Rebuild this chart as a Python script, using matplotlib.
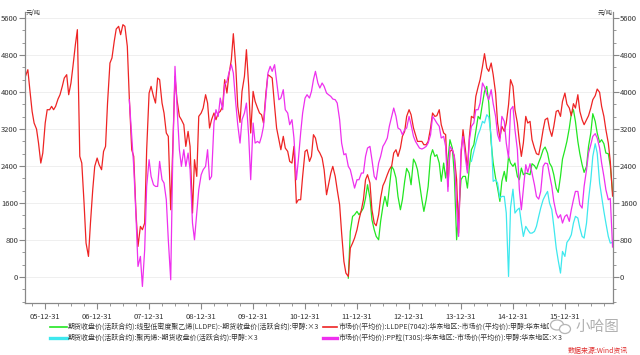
import numpy as np
import pandas as pd
import matplotlib
matplotlib.use('Agg')
import matplotlib.pyplot as plt
import matplotlib.dates as mdates
import matplotlib.ticker as mticker
from matplotlib.lines import Line2D
from matplotlib.patches import Ellipse, Rectangle

plt.rcParams['font.family'] = ['Noto Sans CJK SC', 'DejaVu Sans']

# ---------------- data (semi-monthly samples) ----------------
red_start = '2005-08-15'
red_vals = [
    4339, 4483, 4051, 3582, 3330, 3200, 2897, 2465, 2681, 3330,
    3618, 3618, 3690, 3618, 3690, 3849, 3942, 4123, 4303, 4375,
    3942, 4195, 4555, 5023, 5348, 2609, 2465, 1600, 735, 447,
    1168, 1888, 2393, 2573, 2429, 2321, 2717, 2825, 3762, 4627,
    4735, 5095, 5362, 5420, 5240,
    5456, 5420, 4987, 3870, 2753, 2609, 1384, 663, 1096, 1024,
    1168, 2753, 3978, 4123, 3906, 3762, 4303, 4267, 3762, 3546,
    3114, 3042, 1456, 2753, 4339, 3834, 3474, 3402, 3294, 2825,
    3150, 2825, 1384, 2537, 2177, 3474, 3546, 3654, 3942, 3762,
    3222, 3402, 3546, 3402, 3546,
    3582, 3690, 4267, 3978, 4375, 4699, 5261, 4555, 3690, 3344,
    4014, 4339, 4915, 4123, 3114, 4014, 3798, 3654, 3546, 3510,
    3330, 3978, 4375, 4339, 4303, 3690, 3222, 2969, 2753, 3042,
    2789, 2717, 2501, 2465, 2825, 1600, 1672, 1672, 2177, 2717,
    2753, 2501, 2609, 3078, 3006,
    2753, 2681, 2573, 2321, 1780, 1996, 2249, 2393, 2177, 1888,
    1564, 951, 339, 87, 14, 627, 735, 843, 1024, 1240,
    1456, 1672, 2105, 2213, 2033, 1456, 1168, 1110, 1348, 1708,
    1975, 2069, 2213, 2321, 2407, 2681, 2753, 2609, 2789, 3042,
    3150, 3474, 3618, 3510,
    3222, 3078, 2933, 2933, 2933, 2861, 2861, 2933, 3222, 3546,
    3474, 3488, 3618, 3294, 3114, 3078, 1960, 2717, 2753, 2609,
    2105, 951, 2609, 3186, 2753, 2321, 3042, 3474, 3438, 3906,
    4108, 4267, 4555, 4829, 4519, 4447, 4627, 4375, 3978, 3330,
    3006, 3258, 3150, 3330, 3726,
    4267, 4123, 3618, 3330, 2933, 2609, 2897, 3474, 3330, 3366,
    2969, 2789, 2667, 2645, 2861, 3186, 3402, 3438, 3200, 3042,
    3258, 3582, 3604, 3474, 3798, 3978, 3740, 3654, 3488, 3748,
    3654, 3942, 3582, 3402, 3294, 3402, 3488, 3654, 3834, 3921,
    4065, 3993, 3690, 3474, 3186, 2897, 2500, 1750,
]

magenta_start = '2007-08-15'
magenta_vals = [
    3834, 3042, 2393, 1312, 230, 447, -202, 591, 1960, 2537,
    2177, 1996, 1960, 1960, 2501, 2105, 2033, 1672, 807, -58,
    2537, 4555, 3690, 2753, 2393, 2753, 2393, 2681, 2321, 1168,
    807, 1384, 1888, 2213, 2321, 2393, 2753, 2105, 2177, 3330,
    3618, 3474,
    3870, 3618, 4159, 4231, 4411, 4591, 4411, 3762, 3294, 2897,
    3402, 3546, 3762, 3042, 2105, 3330, 2897, 2933, 2897, 3042,
    3258, 3906, 4411, 4555, 4447, 4591, 4231, 3834, 3870, 4051,
    3618, 3546, 3294, 3402, 3006, 2105, 2537, 3114, 3546, 3870,
    3942, 3870, 4014, 4267, 4447,
    4195, 4087, 4195, 4123, 3978, 3942, 3906, 3849, 3834, 3762,
    3402, 2897, 2645, 2667, 2393, 2321, 2105, 1924, 2105, 2105,
    2249, 2249, 2609, 2789, 2825, 2537, 2177, 2105, 2465, 2609,
    2825, 2897, 3006, 3258, 3474, 3654, 3474, 3222, 3186, 3078,
    3186, 3222, 3474, 3294,
    3042, 2933, 2861, 2789, 2768, 2789, 2825, 2897, 3078, 3474,
    3402, 3330, 3258, 3006, 3042, 2825, 1852, 2825, 2753, 2609,
    1528, 879, 2753, 3042, 2573, 2249, 2969, 3258, 3330, 3618,
    3618, 3762, 4195, 4108, 3942, 3834, 4051, 3748, 3474, 3078,
    2933, 3474, 3366, 2897, 2573,
    3618, 3690, 3186, 2753, 1888, 1456, 1888, 2429, 2263, 2451,
    2249, 1996, 1744, 1686, 1852, 2393, 2465, 2451, 2213, 1960,
    1636, 1384, 1276, 1348, 1168, 1312, 1348, 1204, 1456, 1672,
    1852, 1852, 1564, 1492, 1960, 2321, 2681, 2861, 3042, 3100,
    3006, 2789, 2465, 2177, 1888, 1672, 1700, 650,
]

green_start = '2011-11-01'
green_vals = [
    -22, 987, 1312, 1348, 1420, 1348, 1420, 1492, 1708, 1996,
    1708, 1240, 1024, 879, 807, 1204, 1528, 1744, 1528, 1924,
    2393, 2321, 2141, 1744, 1456, 1672, 2069, 2350, 2249, 1996,
    2550, 2465, 2321, 2033, 1672, 1420, 1672, 1960, 2609, 2753,
    2609, 2645, 2465, 2069, 2465, 2141, 2537, 2969, 2789, 2213,
    807, 1384, 2105, 2177, 2177, 1924, 2393, 2753, 2861, 3150,
    3474, 3416, 3762, 4014, 4123, 3762, 2897, 2465, 2141, 1924,
    1636, 2069, 2285, 2069, 2609,
    2465, 2393, 2465, 2177, 2105, 2357, 2213, 2249, 2234, 2213,
    2451, 2407, 2335, 2479, 2587, 2753, 2811, 2681, 2465, 2379,
    2213, 1924, 1831, 2177, 2551, 2753, 2933, 3222, 3532, 3618,
    3366, 2933, 2667, 2429, 2263, 2393, 2825, 3114, 3532, 3366,
    3114, 2912, 2969, 2883, 2681, 2667, 2400, 1850,
]

cyan_start = '2014-03-15'
cyan_vals = [
    2501, 2717, 2897, 3078, 3186, 3366, 3330, 3510, 3460, 3042,
    2069, 2105, 2033, 1708, 1744, 1744, 1384, 14,
    1500, 1900, 1384, 1456, 1492, 1168, 879, 1096, 1024, 951,
    951, 987, 1096, 1312, 1492, 1672, 1759, 1852, 1600, 1456,
    1096, 627, 360, 87, 555, 447, 749, 822, 915, 1168,
    1312, 1276, 1060, 879, 843, 1168, 1672, 2105, 2609, 2883,
    2681, 2033, 1744, 1420, 1168, 879, 735, 750,
]

series_labels = [
    '期货收盘价(活跃合约):线型低密度聚乙烯(LLDPE):-期货收盘价(活跃合约):甲醇:×3',
    '期货收盘价(活跃合约):聚丙烯:-期货收盘价(活跃合约):甲醇:×3',
    '市场价(平均价):LLDPE(7042):华东地区:-市场价(平均价):甲醇:华东地区:×3',
    '市场价(平均价):PP粒(T30S):华东地区:-市场价(平均价):甲醇:华东地区:×3',
]
series_colors = ['#22e622', '#3ee8ee', '#ee2424', '#ee30ee']

year_ticks = [f'{y}-12-31' for y in range(2005, 2016)]
y_major = np.arange(0, 5601, 800)
unit_label = '元/吨'
source_label = '数据来源:Wind资讯'
watermark = '小哈图'


def semi_monthly(start, vals):
    return pd.date_range(start, periods=len(vals), freq='SMS')


series = [
    (semi_monthly(green_start, green_vals), green_vals),
    (semi_monthly(cyan_start, cyan_vals), cyan_vals),
    (semi_monthly(red_start, red_vals), red_vals),
    (semi_monthly(magenta_start, magenta_vals), magenta_vals),
]

# ---------------- figure ----------------
W, H = 640, 355
fig = plt.figure(figsize=(W / 100, H / 100), dpi=100)
ax = fig.add_axes([25 / W, 52 / H, 588 / W, 291 / H])

for (d, v), c in zip(series, series_colors):
    ax.plot(d, v, color=c, lw=0.9, solid_joinstyle='round')

ax.set_xlim(pd.Timestamp('2005-08-12'), pd.Timestamp('2016-12-04'))
ax.set_ylim(-560, 5730)

ax.xaxis.set_major_locator(mticker.FixedLocator(mdates.date2num(pd.to_datetime(year_ticks))))
ax.xaxis.set_minor_locator(mticker.FixedLocator(mdates.date2num(
    pd.date_range('2005-09-30', '2016-12-31', freq=pd.offsets.QuarterEnd()))))
ax.xaxis.set_major_formatter(mdates.DateFormatter('%y-%m-%d'))

ax.yaxis.set_major_locator(mticker.FixedLocator(y_major))
ax.yaxis.set_minor_locator(mticker.MultipleLocator(800 / 3))
ax.yaxis.set_major_formatter(mticker.FuncFormatter(lambda v, p: f'{int(round(v))}'))

ax.grid(axis='y', which='major', color='#ececec', lw=0.6)
ax.set_axisbelow(True)

for s in ['left', 'right', 'bottom']:
    ax.spines[s].set_color('#888888')
    ax.spines[s].set_linewidth(0.9)
ax.spines['top'].set_visible(False)

ax.tick_params(axis='y', which='both', left=True, right=True, labelleft=True,
               labelright=True, direction='out', color='#888888',
               labelcolor='#333333', labelsize=5.5, pad=1)
ax.tick_params(axis='y', which='major', length=4)
ax.tick_params(axis='y', which='minor', length=2)
ax.tick_params(axis='x', which='both', direction='out', color='#888888',
               labelcolor='#333333', labelsize=5.5, pad=3)
ax.tick_params(axis='x', which='major', length=4)
ax.tick_params(axis='x', which='minor', length=2)

# unit labels
fig.text(26 / W, 1 - 12.5 / H, unit_label, fontsize=4.5, ha='left', va='center', color='#333333')
fig.text(613 / W, 1 - 12.5 / H, unit_label, fontsize=4.5, ha='right', va='center', color='#333333')

# legend (manual, two columns)
legend_pos = [(50, 67, 68, 327), (50, 67, 68, 338), (323, 337, 339, 327), (323, 337, 339, 338)]
legend_lw = [1.2, 2.4, 1.2, 2.4]
for (x0, x1, xt, yy), lab, c, lw in zip(legend_pos, series_labels, series_colors, legend_lw):
    fig.add_artist(Line2D([x0 / W, x1 / W], [1 - yy / H, 1 - yy / H], color=c, lw=lw,
                          transform=fig.transFigure))
    fig.text(xt / W, 1 - yy / H, lab, fontsize=5.0, ha='left', va='center', color='#333333')

# watermark
fig.add_artist(Rectangle((549 / W, 1 - 334 / H), 76 / W, 15 / H, transform=fig.transFigure,
                         facecolor='white', edgecolor='none', zorder=5))
fig.add_artist(Ellipse((557 / W, 1 - 325 / H), 13 / W, 10 / H, transform=fig.transFigure,
                       facecolor='none', edgecolor='#b5b5b5', lw=0.9, zorder=6))
fig.add_artist(Ellipse((565 / W, 1 - 329 / H), 11 / W, 9 / H, transform=fig.transFigure,
                       facecolor='white', edgecolor='#b5b5b5', lw=0.9, zorder=7))
fig.text(597 / W, 1 - 327 / H, watermark, fontsize=10.5, ha='center', va='center',
         color='#b0b0b0', zorder=8)

# source
fig.text(628 / W, 1 - 350.5 / H, source_label, fontsize=5.0, ha='right', va='center',
         color='#e03030', style='italic')

fig.savefig('out.png', dpi=100)
